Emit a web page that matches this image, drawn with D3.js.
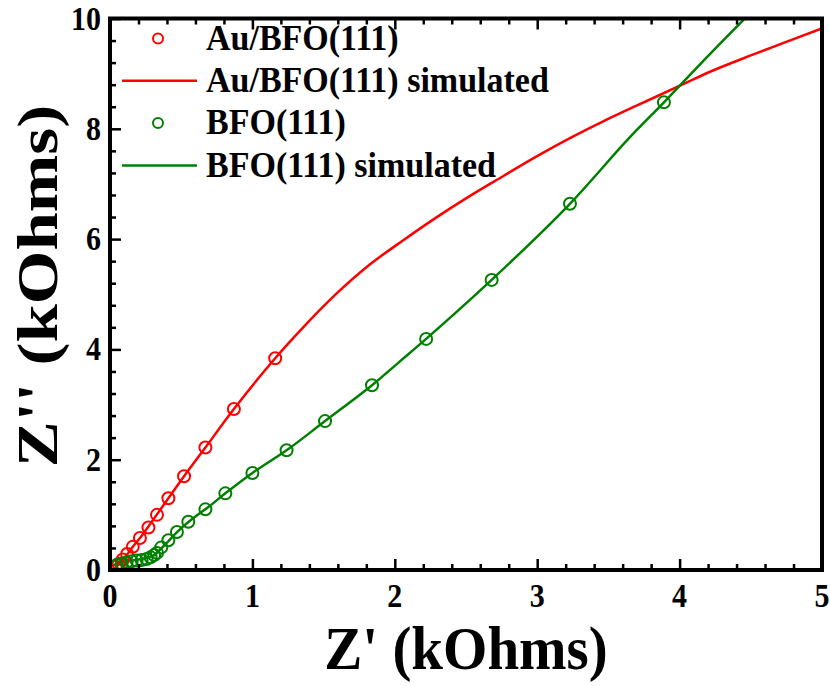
<!DOCTYPE html>
<html>
<head>
<meta charset="utf-8">
<script src="https://cdn.jsdelivr.net/npm/d3@7"></script>
<style>
body { margin: 0; background: #fff; }
text { font-family: "Liberation Serif", "Times New Roman", serif; font-weight: bold; fill: #000; }
</style>
</head>
<body>
<svg id="chart" width="830" height="686"></svg>
<script>
// Au/BFO(111) measured points (kOhms)
const auX = [1.16, 0.87, 0.67, 0.52, 0.41, 0.33, 0.27, 0.21, 0.16, 0.12, 0.09, 0.06, 0.04];
const auY = [3.84, 2.92, 2.22, 1.70, 1.30, 1.00, 0.77, 0.58, 0.42, 0.29, 0.19, 0.11, 0.06];
// Au/BFO(111) simulated
const auSimX = [0.03, 0.06, 0.10, 0.16, 0.22, 0.30, 0.41, 0.52, 0.67, 0.87, 1.16, 1.36, 1.59, 1.82, 2.06, 2.29, 2.52, 2.76, 2.99, 3.23, 3.46, 3.69, 4.01, 4.21, 4.50, 5.05];
const auSimY = [0.02, 0.10, 0.21, 0.42, 0.61, 0.90, 1.30, 1.70, 2.22, 2.92, 3.84, 4.41, 5.01, 5.53, 5.98, 6.39, 6.77, 7.14, 7.49, 7.83, 8.13, 8.41, 8.79, 9.03, 9.33, 9.87];
// BFO(111) measured points
const bfoX = [3.89, 3.23, 2.68, 2.22, 1.84, 1.51, 1.24, 1.00, 0.81, 0.67, 0.55, 0.47, 0.41, 0.36, 0.33, 0.31, 0.285, 0.257, 0.222, 0.187, 0.152, 0.117, 0.082, 0.047];
const bfoY = [8.48, 6.64, 5.26, 4.19, 3.35, 2.70, 2.17, 1.76, 1.39, 1.10, 0.875, 0.69, 0.54, 0.41, 0.31, 0.27, 0.23, 0.20, 0.18, 0.17, 0.16, 0.14, 0.12, 0.09];
// BFO(111) simulated
const bfoSimX = [0.02, 0.06, 0.13, 0.20, 0.27, 0.31, 0.34, 0.38, 0.43, 0.50, 0.60, 0.70, 0.81, 1.00, 1.24, 1.51, 1.84, 2.03, 2.22, 2.68, 3.23, 3.63, 3.89, 4.17, 4.45, 4.55];
const bfoSimY = [0.08, 0.12, 0.16, 0.19, 0.23, 0.27, 0.34, 0.44, 0.58, 0.76, 0.97, 1.16, 1.39, 1.76, 2.17, 2.70, 3.35, 3.77, 4.19, 5.26, 6.64, 7.79, 8.48, 9.24, 9.98, 10.25];

const xTicks = [0, 1, 2, 3, 4, 5];
const yTicks = [0, 2, 4, 6, 8, 10];
const legendNames = ["Au/BFO(111)", "Au/BFO(111) simulated", "BFO(111)", "BFO(111) simulated"];

const red = "#ff0000", green = "#008000";
const svg = d3.select("#chart");
const mLeft = 110, mRight = 822, mTop = 18.5, mBottom = 570;

const x = d3.scaleLinear().domain([0, 5]).range([mLeft, mRight]);
const y = d3.scaleLinear().domain([0, 10]).range([mBottom, mTop]);

const zip = (a, b) => a.map((v, i) => [v, b[i]]);

svg.append("clipPath").attr("id", "clip")
    .append("rect").attr("x", mLeft).attr("y", mTop).attr("width", mRight - mLeft).attr("height", mBottom - mTop);

const plot = svg.append("g").attr("clip-path", "url(#clip)");
const line = d3.line().x(d => x(d[0])).y(d => y(d[1])).curve(d3.curveCatmullRom);

plot.append("path").datum(zip(auSimX, auSimY))
    .attr("d", line).attr("fill", "none").attr("stroke", red).attr("stroke-width", 2.5);
plot.append("path").datum(zip(bfoSimX, bfoSimY))
    .attr("d", line).attr("fill", "none").attr("stroke", green).attr("stroke-width", 2.5);

plot.selectAll(".au").data(zip(auX, auY)).enter().append("circle")
    .attr("cx", d => x(d[0])).attr("cy", d => y(d[1])).attr("r", 6)
    .attr("fill", "none").attr("stroke", red).attr("stroke-width", 2);
plot.selectAll(".bfo").data(zip(bfoX, bfoY)).enter().append("circle")
    .attr("cx", d => x(d[0])).attr("cy", d => y(d[1])).attr("r", 6)
    .attr("fill", "none").attr("stroke", green).attr("stroke-width", 2);

// axes: ticks point inward
function styleAxis(g) {
    g.select(".domain").remove();
    g.selectAll("line").attr("stroke", "#000").attr("stroke-width", 2.5);
    g.selectAll("text").remove();
}
const xMinor = d3.range(0, 5.001, 0.2).filter(v => Math.abs(v - Math.round(v)) > 0.01);
const yMinor = d3.range(0, 10.001, 0.4).filter(v => Math.abs(v / 2 - Math.round(v / 2)) > 0.01);

svg.append("g").attr("transform", `translate(0,${mBottom})`)
    .call(d3.axisBottom(x).tickValues(xTicks).tickSize(-11)).call(styleAxis);
svg.append("g").attr("transform", `translate(0,${mBottom})`)
    .call(d3.axisBottom(x).tickValues(xMinor).tickSize(-6)).call(styleAxis);
svg.append("g").attr("transform", `translate(0,${mTop})`)
    .call(d3.axisTop(x).tickValues(xTicks).tickSize(-11)).call(styleAxis);
svg.append("g").attr("transform", `translate(0,${mTop})`)
    .call(d3.axisTop(x).tickValues(xMinor).tickSize(-6)).call(styleAxis);
svg.append("g").attr("transform", `translate(${mLeft},0)`)
    .call(d3.axisLeft(y).tickValues(yTicks).tickSize(-11)).call(styleAxis);
svg.append("g").attr("transform", `translate(${mLeft},0)`)
    .call(d3.axisLeft(y).tickValues(yMinor).tickSize(-6)).call(styleAxis);

svg.append("rect").attr("x", mLeft).attr("y", mTop).attr("width", mRight - mLeft).attr("height", mBottom - mTop)
    .attr("fill", "none").attr("stroke", "#000").attr("stroke-width", 4);

// stretched text helper
function label(tx, ty, txt, size, anchor, sy, rot) {
    return svg.append("text")
        .attr("transform", `translate(${tx},${ty}) scale(1,${sy})` + (rot ? ` rotate(${rot})` : ""))
        .attr("text-anchor", anchor).attr("font-size", size).text(txt);
}

xTicks.forEach(v => label(x(v), 607, d3.format("d")(v), 30, "middle", 1.1));
yTicks.forEach(v => label(101, y(v) + 11, d3.format("d")(v), 30, "end", 1.15));

label((mLeft + mRight) / 2, 669, "Z' (kOhms)", 57, "middle", 1.08);
label(57, 286, "Z'' (kOhms)", 58, "middle", 1.19, -90);

// legend
const legBase = [49.5, 91.8, 134, 176.5];
const legColor = [red, red, green, green];
legendNames.forEach((name, i) => {
    const cy = legBase[i] - 11;
    if (i % 2 === 0) {
        svg.append("circle").attr("cx", 158).attr("cy", cy).attr("r", 5)
            .attr("fill", "none").attr("stroke", legColor[i]).attr("stroke-width", 2);
    } else {
        svg.append("line").attr("x1", 122).attr("x2", 197).attr("y1", cy).attr("y2", cy)
            .attr("stroke", legColor[i]).attr("stroke-width", 2.5);
    }
    label(206, legBase[i], name, 34, "start", 1.05);
});
</script>
</body>
</html>
